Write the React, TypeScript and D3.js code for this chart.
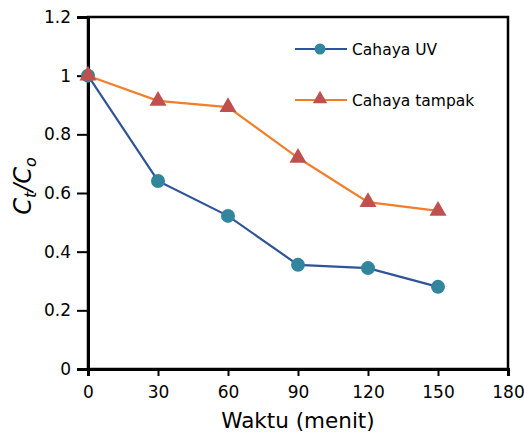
import React, { useEffect, useRef } from 'react';
import * as d3 from 'd3';

const times = [0, 30, 60, 90, 120, 150];
const uvValues = [1.0, 0.641, 0.522, 0.355, 0.344, 0.28];
const tampakValues = [1.0, 0.914, 0.893, 0.72, 0.569, 0.539];
const xTicks = [0, 30, 60, 90, 120, 150, 180];
const yTicks = [0, 0.2, 0.4, 0.6, 0.8, 1, 1.2];

const App = () => {
  const ref = useRef<SVGSVGElement>(null);

  useEffect(() => {
    const svg = d3.select(ref.current);
    svg.selectAll('*').remove();

    const margin = { top: 17, right: 16, bottom: 69, left: 88 };
    const width = 524;
    const height = 438;
    const font = 'DejaVu Sans, Verdana, sans-serif';

    const x = d3.scaleLinear().domain([0, 180]).range([margin.left, width - margin.right]);
    const y = d3.scaleLinear().domain([0, 1.2]).range([height - margin.bottom, margin.top]);

    // frame
    svg
      .append('rect')
      .attr('x', margin.left)
      .attr('y', margin.top)
      .attr('width', width - margin.right - margin.left)
      .attr('height', height - margin.bottom - margin.top)
      .attr('fill', 'none')
      .attr('stroke', 'black')
      .attr('stroke-width', 2.5);

    // y axis
    const yAxis = svg
      .append('g')
      .attr('transform', `translate(${margin.left},0)`)
      .call(
        d3
          .axisLeft(y)
          .tickValues(yTicks)
          .tickSize(11)
          .tickPadding(6)
          .tickFormat((d) => d3.format('')(+d))
      );
    yAxis.select('.domain').attr('stroke-width', 3);
    yAxis.selectAll('.tick line').attr('stroke-width', 2);
    yAxis.selectAll('text').attr('font-family', font).attr('font-size', 17).attr('fill', '#000');

    // x axis
    const xAxis = svg
      .append('g')
      .attr('transform', `translate(0,${height - margin.bottom})`)
      .call(d3.axisBottom(x).tickValues(xTicks).tickSize(7).tickPadding(10));
    xAxis.select('.domain').attr('stroke-width', 3);
    xAxis.selectAll('.tick line').attr('stroke-width', 2);
    xAxis.selectAll('text').attr('font-family', font).attr('font-size', 17).attr('fill', '#000');

    // axis titles
    svg
      .append('text')
      .attr('x', x(90))
      .attr('y', 428)
      .attr('text-anchor', 'middle')
      .attr('font-family', font)
      .attr('font-size', 21.5)
      .text('Waktu (menit)');

    const yt = svg
      .append('text')
      .attr('transform', `translate(31,186) rotate(-90)`)
      .attr('text-anchor', 'middle')
      .attr('font-family', font)
      .attr('font-size', 24)
      .attr('font-style', 'italic');
    yt.append('tspan').text('C');
    yt.append('tspan').attr('font-size', 16).attr('dy', 5).text('t');
    yt.append('tspan').attr('dy', -5).text('/C');
    yt.append('tspan').attr('font-size', 16).attr('dy', 5).text('o');

    const line = d3
      .line<number>()
      .x((_, i) => x(times[i]))
      .y((d) => y(d));

    // Cahaya tampak
    svg
      .append('path')
      .datum(tampakValues)
      .attr('fill', 'none')
      .attr('stroke', '#F07F2D')
      .attr('stroke-width', 2.2)
      .attr('d', line);

    // Cahaya UV
    svg
      .append('path')
      .datum(uvValues)
      .attr('fill', 'none')
      .attr('stroke', '#2F5597')
      .attr('stroke-width', 2.2)
      .attr('d', line);

    svg
      .selectAll('circle.uv')
      .data(uvValues)
      .enter()
      .append('circle')
      .attr('class', 'uv')
      .attr('cx', (_, i) => x(times[i]))
      .attr('cy', (d) => y(d))
      .attr('r', 7)
      .attr('fill', '#31859C');

    const tri = d3.symbol().type(d3.symbolTriangle).size(125);
    svg
      .selectAll('path.tp')
      .data(tampakValues)
      .enter()
      .append('path')
      .attr('class', 'tp')
      .attr('d', tri)
      .attr('transform', (d, i) => `translate(${x(times[i])},${y(d)})`)
      .attr('fill', '#C0504D');

    // legend
    const legend = svg.append('g');
    const items = [
      { label: 'Cahaya UV', line: '#2F5597', marker: '#31859C', kind: 'circle', y: 49 },
      { label: 'Cahaya tampak', line: '#F07F2D', marker: '#C0504D', kind: 'tri', y: 100 },
    ];
    items.forEach((it) => {
      legend
        .append('line')
        .attr('x1', 295)
        .attr('x2', 347)
        .attr('y1', it.y)
        .attr('y2', it.y)
        .attr('stroke', it.line)
        .attr('stroke-width', 2.2);
      if (it.kind === 'circle') {
        legend.append('circle').attr('cx', 320).attr('cy', it.y).attr('r', 5.5).attr('fill', it.marker);
      } else {
        legend
          .append('path')
          .attr('d', d3.symbol().type(d3.symbolTriangle).size(90)())
          .attr('transform', `translate(320,${it.y - 1})`)
          .attr('fill', it.marker);
      }
      legend
        .append('text')
        .attr('x', 352)
        .attr('y', it.y + 6)
        .attr('font-family', font)
        .attr('font-size', 15.5)
        .text(it.label);
    });
  }, []);

  return (
    <svg
      ref={ref}
      width={524}
      height={438}
      style={{ position: 'absolute', left: 0, top: 0, background: '#fff' }}
    />
  );
};

export default App;
